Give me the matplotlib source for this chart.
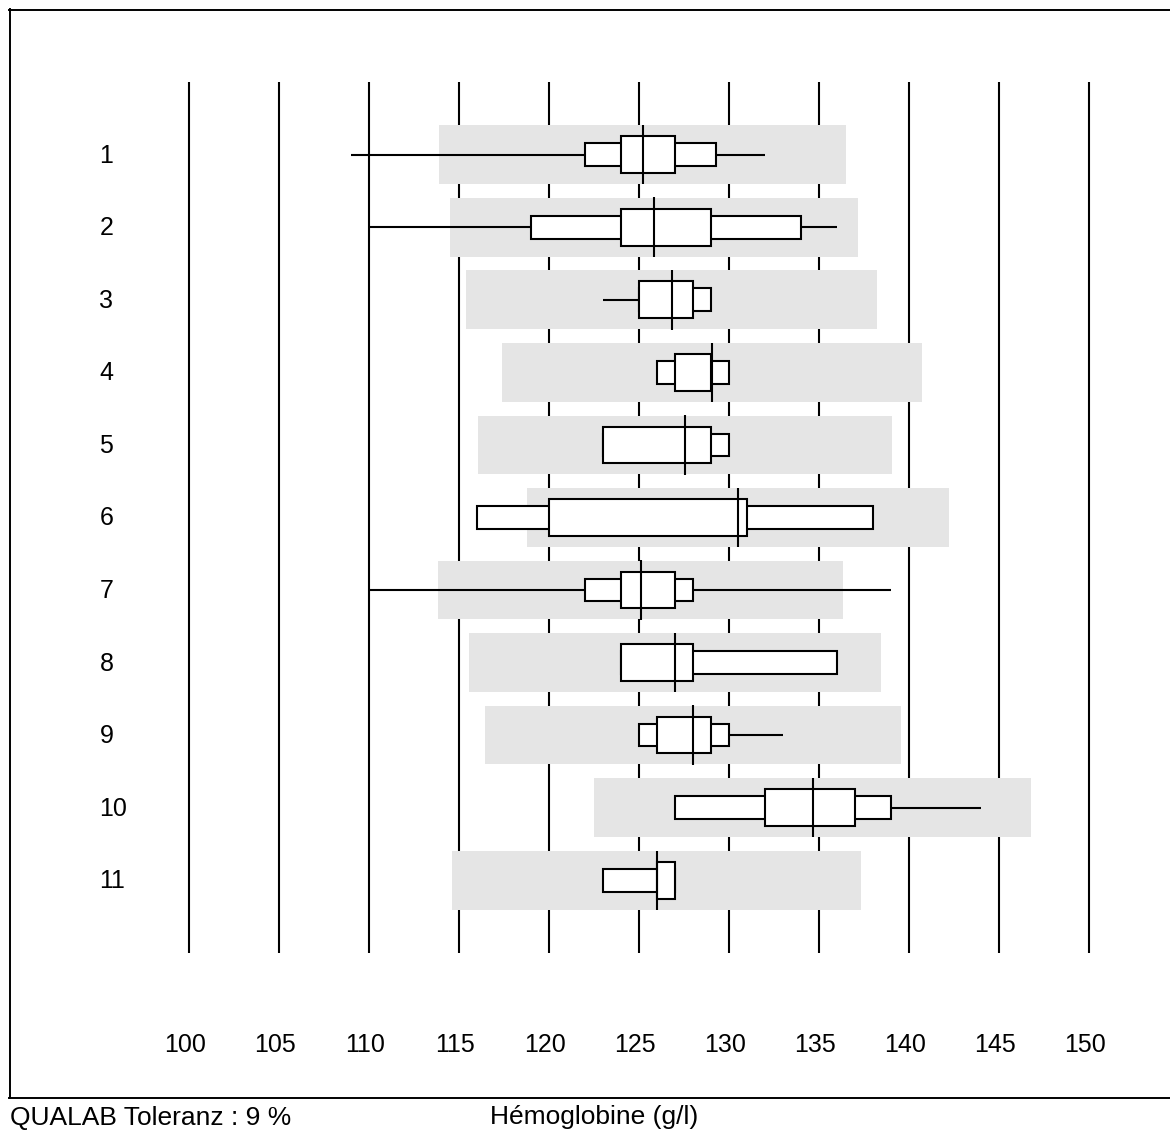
import matplotlib
matplotlib.use('Agg')
import matplotlib.pyplot as plt

plt.rcParams['font.family'] = ['Liberation Sans', 'DejaVu Sans']

# Données (g/l)
laboratoires = ['1', '2', '3', '4', '5', '6', '7', '8', '9', '10', '11']
cible = [125.2, 125.8, 126.8, 129.05, 127.55, 130.5, 125.1, 127.0, 128.0, 134.65, 126.0]
bande_min = [113.9, 114.5, 115.4, 117.4, 116.05, 118.75, 113.8, 115.55, 116.45, 122.5, 114.6]
bande_max = [136.5, 137.15, 138.2, 140.7, 139.05, 142.25, 136.35, 138.45, 139.55, 146.8, 137.35]
moustache_min = [109, 110, 123, 126, 123, 116, 110, 124, 125, 127, 123]
moustache_max = [132, 136, 129, 130, 130, 138, 139, 136, 133, 144, 127]
boite_ext_min = [122, 119, 125, 126, 123, 116, 122, 124, 125, 127, 123]
boite_ext_max = [129.25, 134, 129, 130, 130, 138, 128, 136, 130, 139, 127]
boite_int_min = [124, 124, 125, 127, 123, 120, 124, 124, 126, 132, 126]
boite_int_max = [127, 129, 128, 129, 129, 131, 127, 128, 129, 137, 127]
graduations = [100, 105, 110, 115, 120, 125, 130, 135, 140, 145, 150]

# Figure
W, H = 1170, 1131
fig = plt.figure(figsize=(W / 100, H / 100), dpi=100)
px_unite = 17.99
gauche, haut, bas, droite = 9.5, 9.5, 1098, 1180
ax = fig.add_axes([gauche / W, (H - bas) / H, (droite - gauche) / W, (bas - haut) / H])
ax.set_xlim(90, 90 + (droite - gauche) / px_unite)
ax.set_ylim(14.0, -1.0)
ax.set_xticks([])
ax.set_yticks([])
for s in ['left', 'top', 'bottom']:
    ax.spines[s].set_linewidth(1.4)
ax.spines['right'].set_visible(False)

lignes = list(range(1, len(laboratoires) + 1))

# Lignes verticales
ax.vlines(graduations, 0, 12, color='black', linewidth=1.5, zorder=1)

# Bandes de tolérance
ax.barh(lignes, [b - a for a, b in zip(bande_min, bande_max)], left=bande_min,
        height=0.808, color='#e5e5e5', linewidth=0, zorder=2)

# Moustaches
ax.hlines(lignes, moustache_min, moustache_max, color='black', linewidth=1.5, zorder=3)

# Boîtes
ax.barh(lignes, [b - a for a, b in zip(boite_ext_min, boite_ext_max)], left=boite_ext_min,
        height=0.312, color='white', edgecolor='black', linewidth=1.5, zorder=4)
ax.barh(lignes, [b - a for a, b in zip(boite_int_min, boite_int_max)], left=boite_int_min,
        height=0.505, color='white', edgecolor='black', linewidth=1.5, zorder=5)

# Valeur cible
ax.vlines(cible, [l - 0.41 for l in lignes], [l + 0.41 for l in lignes],
          color='black', linewidth=1.5, zorder=6)

# Étiquettes
for l, nom in zip(lignes, laboratoires):
    ax.text(95.0, l + 0.11, nom, fontsize=18, ha='left', va='baseline')
for g in graduations:
    ax.text(g - 0.22, 13.366, str(g), fontsize=18, ha='center', va='baseline')

fig.text(10.5 / W, 6 / H, 'QUALAB Toleranz : 9 %', fontsize=19, ha='left', va='baseline')
fig.text(594 / W, 7 / H, 'Hémoglobine (g/l)', fontsize=19, ha='center', va='baseline')

fig.savefig('out.png', dpi=100)
